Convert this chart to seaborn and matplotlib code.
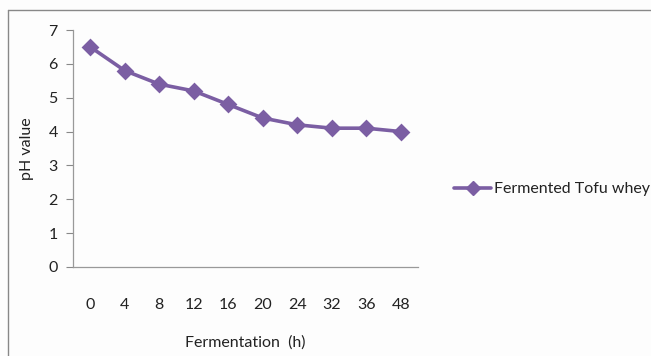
import matplotlib
matplotlib.use("Agg")
import matplotlib.pyplot as plt
import seaborn as sns
import pandas as pd
from matplotlib.lines import Line2D

hours = ["0", "4", "8", "12", "16", "20", "24", "32", "36", "48"]
ph_values = [6.5, 5.8, 5.4, 5.2, 4.8, 4.4, 4.2, 4.1, 4.1, 4.0]
series_name = "Fermented Tofu whey"

sns.set_theme(style="white")
plt.rcParams["font.family"] = ["Lato", "DejaVu Sans"]

color = "#7B5EA3"
df = pd.DataFrame({"hour": hours, "ph": ph_values})

fig = plt.figure(figsize=(6.51, 3.56), dpi=100, facecolor="#fdfdfd")
ax = fig.add_axes([73 / 651, 1 - 267 / 356, 345 / 651, 237 / 356])
ax.set_facecolor("#fdfdfd")

sns.pointplot(data=df, x="hour", y="ph", order=hours, color=color,
              markers="D", markersize=7, linewidth=2.6, ax=ax,
              label=series_name)

ax.set_ylim(0, 7)
ax.set_xlim(-0.5, len(hours) - 0.5)
ax.set_yticks(range(0, 8))
ax.tick_params(axis="y", which="major", length=5, width=0.8, color="#888888",
               labelsize=11.5, pad=6, left=True, labelcolor="#222222")
ax.tick_params(axis="x", length=0, labelsize=11.5, pad=22, labelcolor="#222222")
for s in ["top", "right"]:
    ax.spines[s].set_visible(False)
for s in ["left", "bottom"]:
    ax.spines[s].set_color("#999999")
    ax.spines[s].set_linewidth(0.9)
ax.set_xlabel("Fermentation  (h)", fontsize=11.5, color="#222222")
ax.xaxis.set_label_coords(0.5, -(335 - 267) / 237, transform=ax.transAxes)
ax.set_ylabel("pH value", fontsize=11.5, color="#222222", labelpad=10)
ax.grid(False)
if ax.get_legend() is not None:
    ax.get_legend().remove()

handle = Line2D([], [], color=color, marker="D", markersize=7, linewidth=2.6)
fig.legend([handle], [series_name], loc="center left",
           bbox_to_anchor=(440 / 651, 1 - 189 / 356), frameon=False,
           fontsize=11.5, handlelength=2.3, handletextpad=0.2,
           labelcolor="#222222")

# outer chart frame (left and top edges visible)
fig.add_artist(Line2D([8 / 651, 8 / 651], [0, 1 - 10 / 356], transform=fig.transFigure,
                      color="#888888", linewidth=1.0))
fig.add_artist(Line2D([8 / 651, 1], [1 - 10 / 356, 1 - 10 / 356], transform=fig.transFigure,
                      color="#888888", linewidth=1.0))

fig.savefig("out.png", dpi=100, facecolor=fig.get_facecolor())
